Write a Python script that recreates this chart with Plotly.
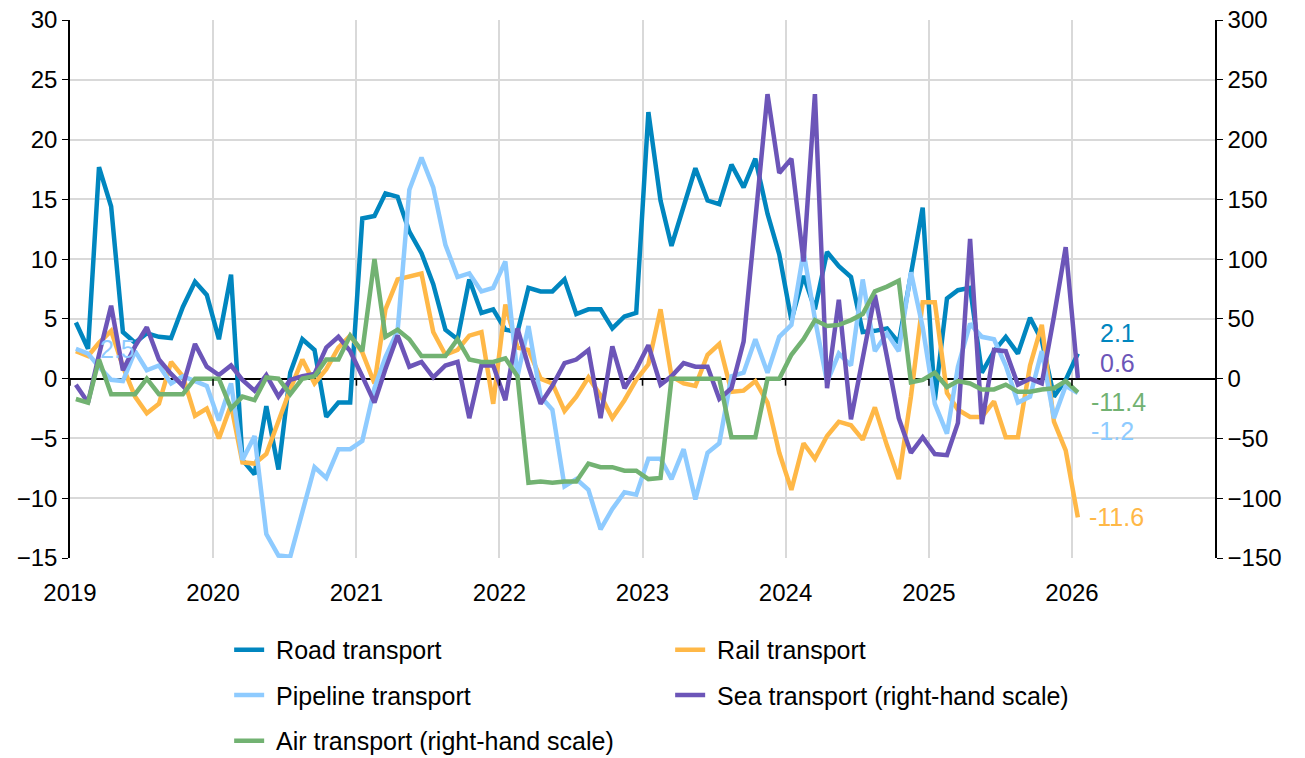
import pandas as pd
import plotly.graph_objects as go

# Monthly observations, Jan 2019 .. Jan 2026 (plotted mid-month)
months = pd.date_range("2019-01-01", periods=85, freq="MS") + pd.Timedelta(days=15)

road = [
    4.7, 2.5, 17.7, 14.4, 3.9, 3.0, 3.8, 3.5, 3.4, 6.0, 8.1, 7.0,
    3.3, 8.7, -6.8, -8.0, -2.3, -7.6, 0.5, 3.3, 2.4, -3.2, -2.0, -2.0,
    13.4, 13.6, 15.5, 15.2, 12.3, 10.5, 7.9, 4.1, 3.3, 8.3, 5.5, 5.8,
    4.1, 3.9, 7.6, 7.3, 7.3, 8.3, 5.4, 5.8, 5.8, 4.2, 5.2, 5.5,
    22.3, 14.9, 11.1, 14.4, 17.6, 14.9, 14.6, 17.9, 16.0, 18.4, 13.8, 10.4,
    4.9, 8.6, 5.8, 10.6, 9.4, 8.5, 3.9, 4.0, 4.2, 3.0, 8.5, 14.3,
    -1.8, 6.7, 7.4, 7.6, 0.5, 2.3, 3.5, 2.1, 5.1, 3.2, -1.5, -0.1,
    2.1,
]
rail = [
    2.3, 1.9, 3.0, 4.0, 1.0, -1.5, -2.9, -2.1, 1.4, 0.2, -3.1, -2.5,
    -5.0, -2.2, -7.0, -7.1, -6.3, -3.5, -0.9, 1.6, -0.4, 0.8, 2.6, 3.6,
    2.2, -0.4, 5.8, 8.3, 8.5, 8.8, 3.9, 2.0, 2.4, 3.6, 3.9, -2.1,
    6.2, 2.6, 2.4, 0.0, -0.4, -2.7, -1.5, 0.1, -1.4, -3.3, -1.8, -0.1,
    1.2, 5.8, 0.2, -0.4, -0.6, 2.0, 2.9, -1.1, -1.0, -0.2, -2.0, -6.2,
    -9.3, -5.4, -6.7, -4.8, -3.6, -3.9, -5.1, -2.4, -5.6, -8.4, -1.5, 6.4,
    6.4, -1.2, -2.6, -3.2, -3.2, -1.9, -4.9, -4.9, 1.1, 4.5, -3.6, -6.0,
    -11.6,
]
pipeline = [
    2.5, 2.1, 1.0, -0.1, -0.2, 2.3, 0.7, 1.1, -0.4, 0.2, -0.2, -0.6,
    -3.5, -0.4, -6.8, -4.8, -13.0, -14.8, -14.9, -11.2, -7.4, -8.3, -5.9, -5.9,
    -5.2, -0.8, 1.8, 4.0, 15.8, 18.5, 16.0, 11.2, 8.5, 8.8, 7.3, 7.6,
    9.8, 0.2, 4.4, -1.5, -2.6, -9.0, -8.4, -9.3, -12.6, -10.9, -9.5, -9.7,
    -6.7, -6.7, -8.4, -5.9, -10.1, -6.2, -5.4, 0.2, 0.5, 3.3, 0.5, 3.5,
    4.5, 10.6, 5.0, -0.3, 2.1, 1.1, 8.3, 2.3, 3.8, 2.3, 8.9, 4.3,
    -2.1, -4.6, 1.0, 4.6, 3.5, 3.3, 1.1, -2.0, -1.5, 2.3, -3.3, -0.6,
    -1.2,
]
sea = [
    -5, -20, 20, 61, 7, 27, 43, 16, 4, -6, 29, 10,
    3, 11, -1, -10, 3, -15, -1, 2, 4, 26, 35, 23,
    2, -20, 8, 36, 10, 14, 1, 11, 14, -33, 11, 11,
    -18, 42, 10, -21, -6, 13, 16, 24, -33, 27, -8, 8,
    28, -5, 2, 13, 10, 10, -17, -8, 31, 130, 238, 172,
    184, 98, 238, -8, 66, -34, 15, 70, 18, -33, -62, -49,
    -63, -64, -37, 117, -38, 24, 23, -5, 0, -4, 52, 110,
    0.6,
]
air = [
    -17, -20, 16, -13, -13, -13, 0, -13, -13, -13, 0, 0,
    0, -25, -15, -18, 1, 0, -13, 0, 2, 16, 16, 36,
    23, 100, 35, 41, 33, 19, 19, 19, 33, 16, 14, 14,
    17, 2, -87, -86, -87, -86, -86, -71, -74, -74, -77, -77,
    -84, -83, 0, 0, 0, 0, 0, -49, -49, -49, 0, 0,
    20, 33, 49, 44, 45, 49, 54, 73, 77, 82, -3, -1,
    5, -7, -2, -4, -9, -9, -5, -11, -11, -9, -8, -2,
    -11.4,
]

year_ticks = [str(y) for y in range(2019, 2027)]
left_ticks = list(range(-15, 31, 5))
right_ticks = list(range(-150, 301, 50))

FONT = "Liberation Sans, Arial, sans-serif"
FS_TICK = 24
FS_TEXT = 25
PAD = "\u00a0"

series = [
    ("Road transport", road, "#0086BF", "y", "legend"),
    ("Rail transport", rail, "#FFB847", "y", "legend"),
    ("Pipeline transport", pipeline, "#8ECBFF", "y", "legend2"),
    ("Sea transport (right-hand scale)", sea, "#6C55B8", "y2", "legend2"),
    ("Air transport (right-hand scale)", air, "#72B272", "y2", "legend3"),
]

fig = go.Figure()
for name, vals, color, axis, leg in series:
    fig.add_trace(go.Scatter(
        x=months, y=vals, name=PAD + name, mode="lines", yaxis=axis, legend=leg,
        line=dict(color=color, width=4.5), hoverinfo="skip",
    ))

# Value labels at the end of each series
end_labels = [
    (road, "#0086BF", "y", 20, -21),
    (sea, "#6C55B8", "y2", 20, -15),
    (air, "#72B272", "y2", 11, 10),
    (pipeline, "#8ECBFF", "y", 11, 38),
    (rail, "#FFB847", "y", 9, 0),
]
for vals, color, yref, dx, dy in end_labels:
    fig.add_annotation(
        x=months[-1], y=vals[-1], xref="x", yref=yref, text=f"{vals[-1]:g}",
        showarrow=False, xanchor="left", yanchor="middle",
        xshift=dx, yshift=-dy, font=dict(color=color, size=FS_TEXT, family=FONT),
    )
# Label on the first pipeline observation
fig.add_annotation(
    x=months[0], y=pipeline[0], xref="x", yref="y", text=f"{pipeline[0]:g}",
    showarrow=False, xanchor="left", yanchor="middle", xshift=22, yshift=0,
    font=dict(color="#8ECBFF", size=FS_TEXT, family=FONT),
)

# Small year ticks hanging from the zero line
for yr in year_ticks:
    fig.add_shape(
        type="line", xref="x", yref="y", x0=f"{yr}-01-01", x1=f"{yr}-01-01",
        ysizemode="pixel", yanchor=0, y0=0, y1=-7,
        line=dict(color="black", width=1.5),
    )

legend_common = dict(
    orientation="h", entrywidth=396, entrywidthmode="pixels",
    font=dict(size=FS_TEXT, family=FONT, color="black"),
    bgcolor="rgba(0,0,0,0)", xanchor="left", yanchor="middle",
    itemclick=False, itemdoubleclick=False,
)
LX = 0.139

fig.update_layout(
    width=1305, height=758,
    margin=dict(l=70, r=90, t=20, b=200, autoexpand=False),
    paper_bgcolor="white", plot_bgcolor="white",
    font=dict(family=FONT, size=FS_TICK, color="black"),
    showlegend=True,
    legend=dict(x=LX, y=-0.171, **legend_common),
    legend2=dict(x=LX, y=-0.255, **legend_common),
    legend3=dict(x=LX, y=-0.340, **legend_common),
    xaxis=dict(
        type="date", range=["2019-01-01", "2027-01-01"],
        tickvals=[f"{y}-01-01" for y in year_ticks], ticktext=year_ticks,
        showgrid=True, gridcolor="#D9D9D9", gridwidth=1.5,
        showline=False, zeroline=False,
        ticks="outside", ticklen=13, tickcolor="rgba(0,0,0,0)",
        tickfont=dict(size=FS_TICK, family=FONT, color="black"),
    ),
    yaxis=dict(
        range=[-15, 30], tickvals=left_ticks,
        showgrid=True, gridcolor="#D9D9D9", gridwidth=1.5,
        zeroline=True, zerolinecolor="black", zerolinewidth=1.5,
        showline=True, linecolor="black", linewidth=1.5,
        ticks="outside", ticklen=6, tickcolor="black",
        tickfont=dict(size=FS_TICK, family=FONT, color="black"),
    ),
    yaxis2=dict(
        range=[-150, 300], tickvals=right_ticks,
        overlaying="y", side="right", showgrid=False, zeroline=False,
        showline=True, linecolor="black", linewidth=1.5,
        ticks="outside", ticklen=6, tickcolor="black",
        tickfont=dict(size=FS_TICK, family=FONT, color="black"),
    ),
)

fig.write_html("out.html")
